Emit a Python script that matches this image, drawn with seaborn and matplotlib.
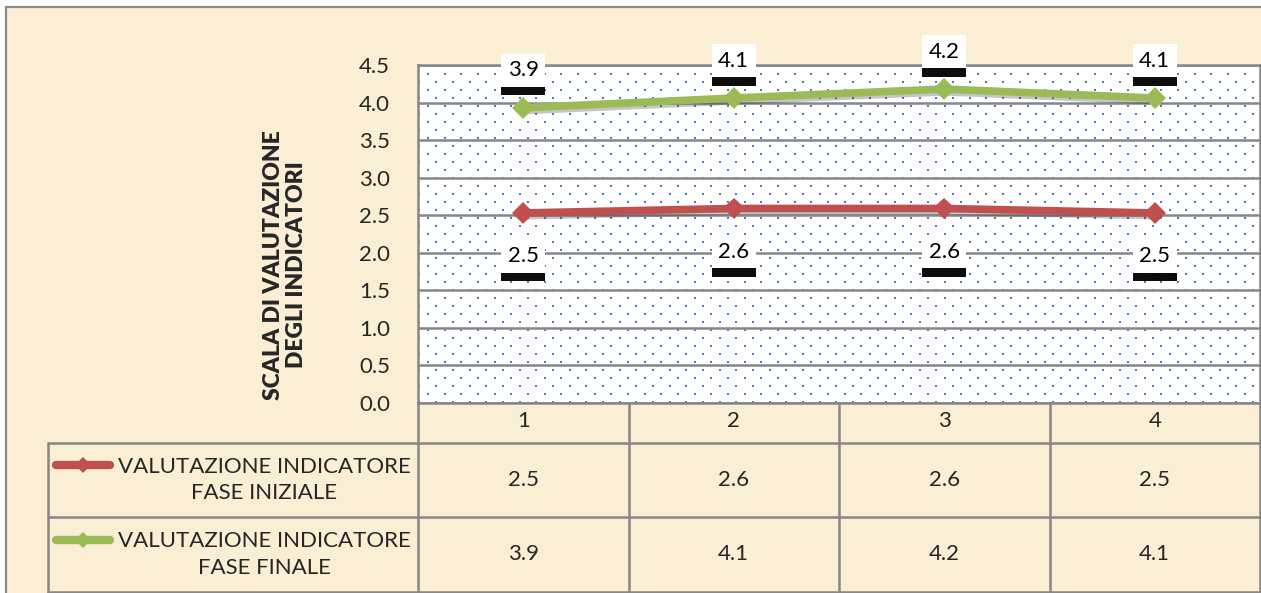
import numpy as np
import pandas as pd
import matplotlib
matplotlib.use("Agg")
import matplotlib.pyplot as plt
import seaborn as sns
from matplotlib import patheffects as pe
from matplotlib.patches import Rectangle
from matplotlib.lines import Line2D

# ---------------- data ----------------
categories = [1, 2, 3, 4]
series_names = ["VALUTAZIONE INDICATORE\nFASE INIZIALE",
                "VALUTAZIONE INDICATORE\nFASE FINALE"]
fase_iniziale = [2.53, 2.59, 2.59, 2.53]
fase_finale = [3.93, 4.06, 4.18, 4.06]
y_ticks = [0.0, 0.5, 1.0, 1.5, 2.0, 2.5, 3.0, 3.5, 4.0, 4.5]
y_label = "SCALA DI VALUTAZIONE\nDEGLI INDICATORI"
colors = ["#C0504D", "#9BBB59"]

df = pd.DataFrame({
    "cat": categories * 2,
    "val": fase_iniziale + fase_finale,
    "serie": [series_names[0]] * 4 + [series_names[1]] * 4,
})

sns.set_theme(style="white")
plt.rcParams["font.family"] = ["Lato", "DejaVu Sans"]
FS = 16
GRID = "#878787"

W, H = 1261, 593
fig = plt.figure(figsize=(W / 100, H / 100), dpi=100, facecolor="white")
fig.patches.append(Rectangle((6 / W, -0.02), 1.0, (H - 7) / H + 0.02,
                             transform=fig.transFigure, facecolor="#FAEED4",
                             edgecolor="#8A8A8A", lw=1.6, zorder=-10))

ax = fig.add_axes([418 / W, (H - 403) / H, 842 / W, 338 / H])

# dotted fill pattern of the plot area
ph, pw = 338, 842
yy, xx = np.mgrid[0:ph, 0:pw]
k = yy // 8
on_row = (yy % 8) < 2
on_col = ((xx + (k % 2) * 8.33) % 16.67) < 2
pat = np.ones((ph, pw, 3))
dot = np.array([0.27, 0.49, 0.80])
pat[on_row & on_col] = dot
ax.imshow(pat, extent=[0.5, 4.5, 0, 4.5], aspect="auto", zorder=0,
          interpolation="nearest", origin="upper")
ax.set_xlim(0.5, 4.5)
ax.set_ylim(0, 4.5)

ax.set_yticks(y_ticks)
ax.set_yticklabels([f"{v:.1f}" for v in y_ticks], fontsize=FS)
ax.set_xticks(categories)
ax.set_xticklabels([str(c) for c in categories], fontsize=FS)
ax.tick_params(axis="y", length=0, pad=20)
ax.tick_params(axis="x", length=0, pad=6)
ax.grid(axis="y", color=GRID, lw=1.8, zorder=1)
ax.set_axisbelow(False)
for s in ax.spines.values():
    s.set_color(GRID)
    s.set_linewidth(1.8)

sns.lineplot(data=df, x="cat", y="val", hue="serie", palette=colors,
             lw=5.5, marker="D", markersize=11, markeredgewidth=0,
             legend=False, ax=ax, zorder=3,
             path_effects=[pe.SimpleLineShadow(offset=(1, -2), alpha=0.25), pe.Normal()])
ax.set_xlabel("")
ax.set_ylabel("")

def label(x, v, dy):
    t = ax.annotate(f"{v:.1f}", (x, v), xytext=(0, dy), textcoords="offset points",
                    ha="center", va="center", fontsize=FS, color="black", zorder=5,
                    bbox=dict(boxstyle="square,pad=0.3", fc="white", ec="none", alpha=1.0))
    t.get_bbox_patch().set_path_effects(
        [pe.withSimplePatchShadow(offset=(0, -6), shadow_rgbFace="black", alpha=0.95)])

for x, v in zip(categories, fase_iniziale):
    label(x, v, -31)
for x, v in zip(categories, fase_finale):
    label(x, v, 27)

fig.text(285 / W, 1 - 265 / H, y_label, rotation=90, ha="center", va="center",
         fontsize=16.5, fontweight="heavy", multialignment="center", linespacing=1.15)

# ---------------- data table ----------------
tab = fig.add_axes([0, 0, 1, 1], zorder=-1)
tab.set_xlim(0, W)
tab.set_ylim(H, 0)
tab.axis("off")
tab.patch.set_alpha(0)

fig.canvas.draw()
edges = [ax.transData.transform((c - 0.5, 0))[0] for c in categories] + \
        [ax.transData.transform((categories[-1] + 0.5, 0))[0]]
left = 48
rows = [403, 443, 517, 592]
for e in edges:
    tab.plot([e, e], [rows[0], rows[-1]], color=GRID, lw=1.8, solid_capstyle="projecting")
tab.plot([left, left], [rows[1], rows[-1]], color=GRID, lw=1.8)
for r in rows[1:]:
    tab.plot([left, edges[-1]], [r, r], color=GRID, lw=1.8)

centers = [ax.transData.transform((c, 0))[0] for c in categories]
for i, (vals, name, col) in enumerate(zip([fase_iniziale, fase_finale], series_names, colors)):
    top, bot = rows[i + 1], rows[i + 2]
    cy = (top + bot) / 2
    for cx, v in zip(centers, vals):
        tab.text(cx, cy, f"{v:.1f}", ha="center", va="center", fontsize=FS)
    tab.text(264, cy, name, ha="center", va="center", fontsize=FS,
             multialignment="center", linespacing=1.4)
    tab.add_line(Line2D([56, 110], [cy - 15, cy - 15], color=col, lw=6,
                        solid_capstyle="round"))
    tab.add_line(Line2D([83], [cy - 15], color=col, marker="D", markersize=8,
                        markeredgewidth=0))

fig.savefig("out.png", dpi=100, facecolor="white")
